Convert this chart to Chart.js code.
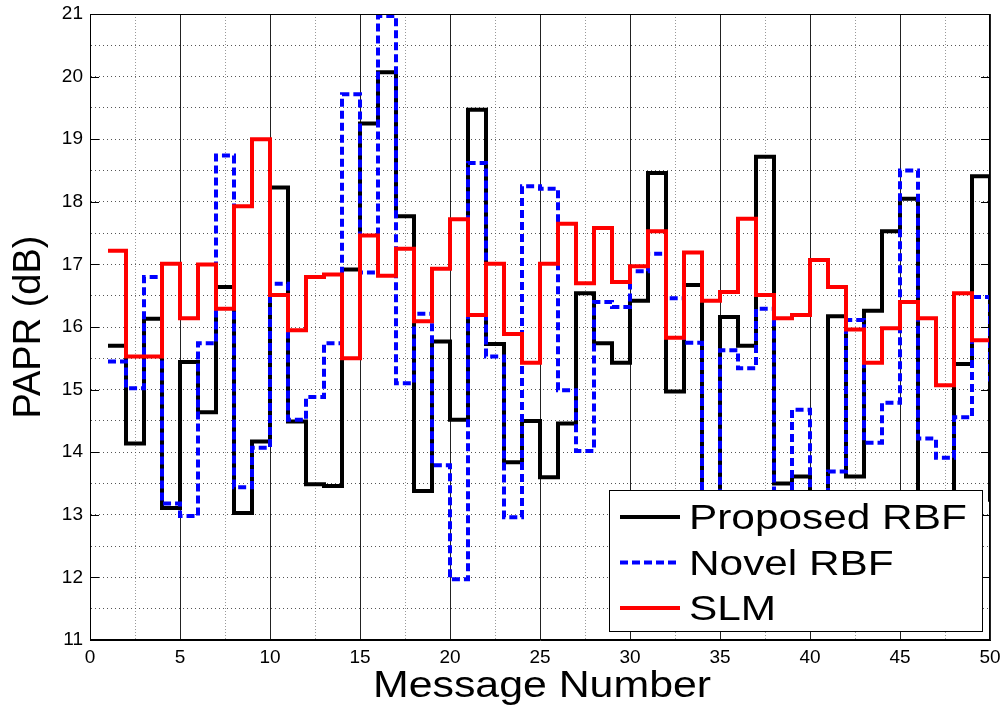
<!DOCTYPE html>
<html>
<head>
<meta charset="utf-8">
<script src="https://cdn.jsdelivr.net/npm/chart.js@4.4.0/dist/chart.umd.min.js"></script>
<style>
  html, body { margin: 0; padding: 0; background: #fff; }
  #wrap { width: 1000px; height: 709px; }
</style>
</head>
<body>
<div id="wrap"><canvas id="papr" width="1000" height="709"></canvas></div>
<script>
// message index (x) and PAPR values (dB)
const messages = [1,2,3,4,5,6,7,8,9,10,11,12,13,14,15,16,17,18,19,20,21,22,23,24,25,
                  26,27,28,29,30,31,32,33,34,35,36,37,38,39,40,41,42,43,44,45,46,47,48,49,50];

const proposedRBF = [15.70,14.14,16.13,13.11,15.44,14.64,16.64,13.03,14.17,18.23,
                     14.49,13.49,13.46,16.92,19.25,20.07,17.77,13.38,15.77,14.52,
                     19.47,15.73,13.84,14.50,13.60,14.46,16.54,15.74,15.43,16.42,
                     18.46,14.97,16.67,12.60,16.16,15.70,18.72,13.50,13.61,12.90,
                     16.17,13.61,16.26,17.53,18.05,13.00,12.70,15.41,18.41,13.21];

const novelRBF = [15.45,15.02,16.80,13.18,12.98,15.74,18.74,13.44,14.07,16.69,
                  14.52,14.88,15.74,19.72,16.87,20.97,15.10,16.21,13.79,11.97,
                  18.62,15.53,12.96,18.25,18.21,14.99,14.02,16.40,16.32,16.89,
                  17.17,16.46,15.75,12.40,15.63,15.34,16.29,12.80,14.68,13.10,
                  13.69,16.11,14.15,14.79,18.50,14.22,13.91,14.56,16.48,15.13];

const slm = [17.22,15.53,15.53,17.01,16.14,17.00,16.29,17.93,19.00,16.51,
             15.95,16.80,16.84,15.50,17.46,16.82,17.25,16.09,16.93,17.72,
             16.19,17.01,15.89,15.43,17.01,17.65,16.70,17.58,16.72,16.97,
             17.53,15.83,17.19,16.42,16.56,17.73,16.51,16.14,16.19,17.07,
             16.64,15.96,15.43,15.98,16.40,16.14,15.07,16.54,15.79,15.77];

const seriesNames = ['Proposed RBF', 'Novel RBF', 'SLM'];
const xTickLabels = [0,5,10,15,20,25,30,35,40,45,50];
const yTickLabels = [11,12,13,14,15,16,17,18,19,20,21];

const FONT = '"Liberation Sans", Arial, Helvetica, sans-serif';
const toPts = vals => messages.map((m, i) => ({ x: m, y: vals[i] }));

const styles = [
  { color: '#000000', dash: [] },
  { color: '#0000ff', dash: [8, 4] },
  { color: '#ff0000', dash: [] }
];

// axes box, inward ticks, legend and x title drawn on top of the lines
const decor = {
  id: 'decor',
  afterDatasetsDraw(chart) {
    const { ctx, chartArea: a, scales: { y } } = chart;
    ctx.save();
    ctx.strokeStyle = '#000';
    ctx.lineWidth = 1;
    ctx.setLineDash([]);
    ctx.strokeRect(a.left + 0.5, a.top + 0.5, a.width - 1, a.height - 1);
    yTickLabels.forEach(v => {
      const py = Math.round(y.getPixelForValue(v)) + 0.5;
      ctx.beginPath();
      ctx.moveTo(a.left, py); ctx.lineTo(a.left + 9, py);
      ctx.moveTo(a.right - 9, py); ctx.lineTo(a.right, py);
      ctx.stroke();
    });

    // legend box
    const w = 373, h = 141;
    const lx = a.right - 8 - w, ly = a.bottom - 9 - h;
    ctx.fillStyle = '#fff';
    ctx.fillRect(lx, ly, w, h);
    ctx.strokeRect(lx + 0.5, ly + 0.5, w, h);
    ctx.font = '35px ' + FONT;
    ctx.textBaseline = 'alphabetic';
    seriesNames.forEach((name, i) => {
      const base = ly + 39 + i * 45.5;
      const mid = base - 12;
      ctx.strokeStyle = styles[i].color;
      ctx.lineWidth = 4;
      ctx.setLineDash(styles[i].dash);
      ctx.beginPath();
      ctx.moveTo(lx + 11, mid); ctx.lineTo(lx + 71, mid);
      ctx.stroke();
      ctx.save();
      ctx.translate(lx + 80, base);
      ctx.scale(1.21, 1);
      ctx.fillStyle = '#000';
      ctx.fillText(name, 0, 0);
      ctx.restore();
    });
    ctx.restore();
  },
  afterDraw(chart) {
    const { ctx, chartArea: a } = chart;
    ctx.save();
    ctx.font = '36px ' + FONT;
    ctx.fillStyle = '#000';
    ctx.textAlign = 'center';
    ctx.textBaseline = 'alphabetic';
    ctx.translate((a.left + a.right) / 2 + 2, a.bottom + 57);
    ctx.scale(1.19, 1);
    ctx.fillText('Message Number', 0, 0);
    ctx.restore();
  }
};

new Chart(document.getElementById('papr'), {
  type: 'line',
  data: {
    datasets: [
      { label: seriesNames[0], data: toPts(proposedRBF), order: 3 },
      { label: seriesNames[1], data: toPts(novelRBF), order: 2 },
      { label: seriesNames[2], data: toPts(slm), order: 1 }
    ].map((d, i) => Object.assign(d, {
      borderColor: styles[i].color,
      backgroundColor: styles[i].color,
      borderDash: styles[i].dash,
      borderWidth: 4,
      stepped: 'before',
      pointRadius: 0,
      fill: false
    }))
  },
  options: {
    responsive: false,
    animation: false,
    devicePixelRatio: 1,
    layout: { padding: { top: 14, right: 10, left: 0, bottom: 0 } },
    plugins: { legend: { display: false }, tooltip: { enabled: false } },
    scales: {
      x: {
        type: 'linear', min: 0, max: 50,
        afterFit: s => { s.height = 69; s.paddingLeft = 0; s.paddingRight = 0; },
        ticks: {
          stepSize: 2.5, autoSkip: false, maxRotation: 0, padding: 6,
          color: '#000', font: { family: FONT, size: 19 },
          callback: v => xTickLabels.includes(v) ? String(v) : ''
        },
        grid: {
          drawTicks: false, lineWidth: 1,
          color: c => (c.tick && c.tick.value % 5 === 0) ? '#222' : '#999'
        },
        border: {
          color: '#000',
          dash: c => (c.tick && c.tick.value % 5 === 0) ? [] : [1, 2]
        }
      },
      y: {
        min: 11, max: 21,
        afterFit: s => { s.width = 90; s.paddingTop = 0; s.paddingBottom = 0; },
        ticks: {
          stepSize: 0.5, autoSkip: false, padding: 7,
          color: '#000', font: { family: FONT, size: 19 },
          callback: v => yTickLabels.includes(v) ? String(v) : ''
        },
        grid: { drawTicks: false, lineWidth: 1, color: '#555' },
        border: { color: '#000', dash: [1, 3] },
        title: {
          display: true, text: 'PAPR (dB)', color: '#000',
          font: { family: FONT, size: 38 }, padding: { top: 7, bottom: 0 }
        }
      }
    }
  },
  plugins: [decor]
});
</script>
</body>
</html>
